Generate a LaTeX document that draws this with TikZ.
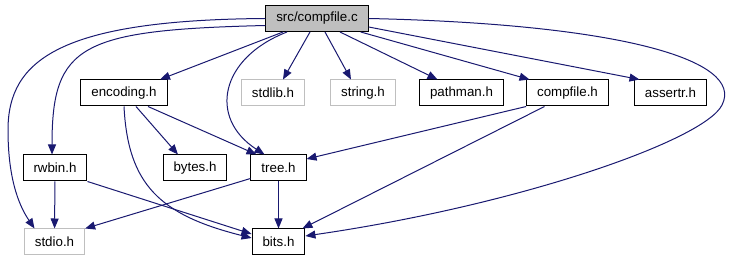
\documentclass[tikz,border=0pt]{standalone}
\usepackage{fontspec}
\setmainfont{Liberation Sans}
\usetikzlibrary{arrows.meta,calc}

\definecolor{edgeblue}{RGB}{25,25,112}
\definecolor{lightgrey}{RGB}{191,191,191}

\begin{document}
\begin{tikzpicture}[
    x=1pt, y=-1pt,
    every node/.style={align=center, font=\fontsize{13.33}{16}\selectfont},
    header/.style={rectangle, draw=black, fill=white, line width=1pt, minimum height=26pt, inner xsep=10.5pt, inner ysep=0pt},
    sysHeader/.style={header, draw=lightgrey},
    rootFile/.style={header, fill=lightgrey},
    dep/.style={draw=edgeblue, line width=1pt, -{Triangle[length=10pt,width=8pt]}}
]
\useasboundingbox (0,0) rectangle (731,261);

% Nodes
\node[rootFile] (src) at (317,18.5) {src/compfile.c};
\node[header] (enc) at (124,93) {encoding.h};
\node[sysHeader] (stdlib) at (273,93) {stdlib.h};
\node[sysHeader] (string) at (363,93) {string.h};
\node[header] (pathman) at (461.5,93) {pathman.h};
\node[header] (cfh) at (567.5,93) {compfile.h};
\node[header] (assertr) at (670.5,93) {assertr.h};
\node[header] (rwbin) at (55,168) {rwbin.h};
\node[header] (bytes) at (195,168) {bytes.h};
\node[header] (tree) at (278.5,168) {tree.h};
\node[sysHeader] (stdio) at (54.5,242) {stdio.h};
\node[header] (bits) at (278.5,242) {bits.h};

% Arrows
\draw[dep] ($(src.south)+(-34,0)$) -- ($(enc.north)+(36,0)$);
\draw[dep] ($(src.south)+(-7,0)$) -- ($(stdlib.north)+(10,0)$);
\draw[dep] ($(src.south)+(8,0)$) -- ($(string.north)+(-12,0)$);
\draw[dep] ($(src.south)+(23,0)$) -- ($(pathman.north)+(-24,0)$);
\draw[dep] ($(src.south east)+(-8,0)$) -- ($(cfh.north)+(-38,0)$);
\draw[dep] ($(src.east)+(0,8.5)$) -- ($(assertr.north)+(-31,0)$);
\draw[dep] (src.east) .. controls (620,24) and (745,60) .. (722,105)
    .. controls (705,140) and (520,205) .. ($(bits.east)+(0,-6)$);
\draw[dep] ($(src.south)+(-30,0)$) .. controls (220,58) and (208,118) .. ($(tree.north)+(-14,0)$);
\draw[dep] ($(src.west)+(0,7)$) .. controls (80,30) and (52,45) .. ($(rwbin.north)+(-3,0)$);
\draw[dep] (src.west) .. controls (60,20) and (8,60) .. (8,130)
    .. controls (8,185) and (22,210) .. ($(stdio.north)+(-20,0)$);
\draw[dep] ($(enc.south)+(12,0)$) -- ($(bytes.north)+(-17,0)$);
\draw[dep] ($(enc.south)+(24,0)$) -- ($(tree.north)+(-22,0)$);
\draw[dep] (enc.south) .. controls (128,185) and (160,215) .. ($(bits.west)+(0,-4)$);
\draw[dep] (cfh.south west) -- ($(tree.east)+(0,-9)$);
\draw[dep] ($(cfh.south)+(-23,0)$) -- ($(bits.north east)+(-3,0)$);
\draw[dep] (rwbin) -- (stdio);
\draw[dep] (rwbin.south east) -- ($(bits.west)+(0,-8)$);
\draw[dep] ($(tree.south west)+(0,-3)$) -- (stdio.north east);
\draw[dep] (tree) -- (bits);

\end{tikzpicture}
\end{document}
